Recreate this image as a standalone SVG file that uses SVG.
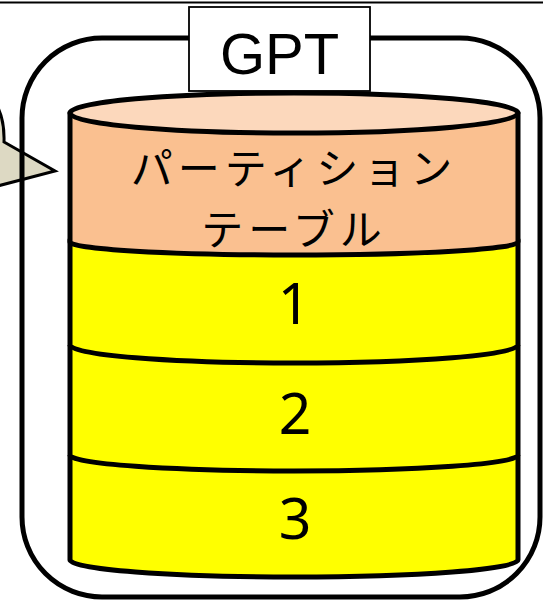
<svg xmlns="http://www.w3.org/2000/svg" width="543" height="602" viewBox="0 0 543 602">
<style>
.ln{stroke:#000;stroke-width:5;stroke-linejoin:round;fill:none}
.jp{font-family:"Noto Sans CJK JP","Noto Sans",sans-serif;font-size:42px;fill:#000;text-anchor:middle}
.num{font-family:"Noto Sans","Liberation Sans",sans-serif;font-size:57px;fill:#000;text-anchor:middle}
</style>
<rect width="543" height="602" fill="#fff"/>
<line x1="0" y1="2.5" x2="543" y2="2.5" stroke="#000" stroke-width="2"/>
<g id="callout">
<path d="M-10,96 Q5,112 4,142 L55,171 L-10,188 Z" fill="#DDD9C3" stroke="#000" stroke-width="3" stroke-linejoin="miter"/>
</g>
<g id="container">
<rect x="22" y="38" width="518" height="559" rx="80" ry="80" class="ln"/>
</g>
<g id="gpt-label">
<rect x="189" y="7" width="181" height="84" fill="#fff" stroke="#000" stroke-width="1.8"/>
<text x="279.5" y="74" font-family="Liberation Sans, Arial, sans-serif" font-size="58" text-anchor="middle" fill="#000">GPT</text>
</g>
<g id="cylinder">
<path d="M70,240 L70,560 A224,17 0 0 0 518,560 L518,240 Z" class="ln" style="fill:#FFFF00"/>
<path d="M70,113 L70,242 A224,13 0 0 0 518,242 L518,113 Z" class="ln" style="fill:#FAC090"/>
<ellipse cx="294" cy="113" rx="224" ry="20" class="ln" style="fill:#FCD8BC"/>
<path d="M70,345 A224,18 0 0 0 518,345" class="ln"/>
<path d="M70,455 A224,16 0 0 0 518,455" class="ln"/>
</g>
<g id="partition-table">
<text class="jp" letter-spacing="5"><tspan x="294" y="184">パーティション</tspan><tspan x="294" y="245">テーブル</tspan></text>
</g>
<g id="p1"><text x="294" y="324" class="num">1</text></g>
<g id="p2"><text x="295" y="434" class="num">2</text></g>
<g id="p3"><text x="295" y="539" class="num">3</text></g>
</svg>
